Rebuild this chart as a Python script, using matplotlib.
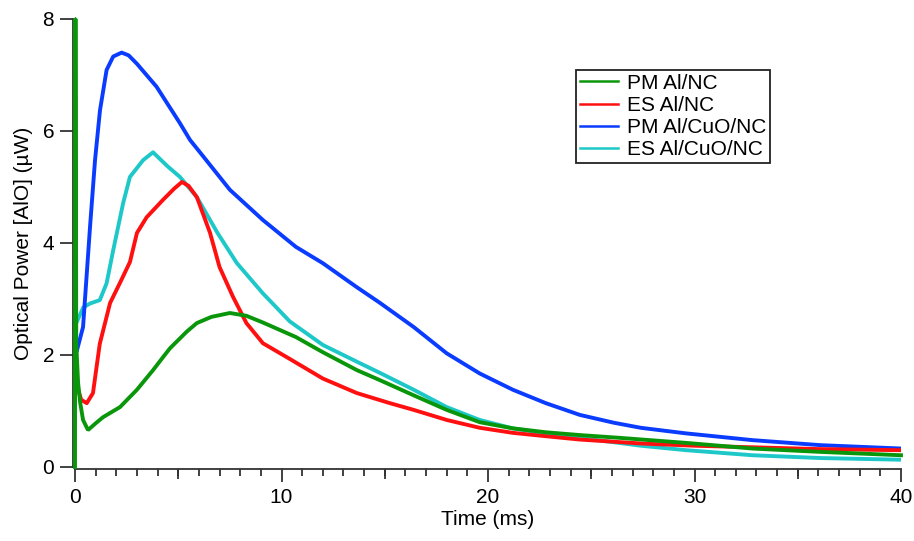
import matplotlib
matplotlib.use("Agg")
import matplotlib.pyplot as plt
from matplotlib.ticker import MultipleLocator, FixedLocator, NullFormatter

plt.rcParams['font.family'] = ['Liberation Sans', 'DejaVu Sans']

# --- data (time in ms, power in uW) ---
t_pm_al = [0.0, 0.015, 0.03, 0.06, 0.15, 0.25, 0.39, 0.63, 1.0, 1.36, 2.18, 3.0,
           3.78, 4.26, 4.6, 5.42, 5.9, 6.6, 7.5, 8.3, 9.1, 9.9, 10.7, 12.0, 13.65,
           14.77, 16.4, 18.0, 19.6, 21.2, 22.8, 24.45, 26.4, 29.6, 32.8, 36.1, 40.0]
y_pm_al = [0.0, 8.0, 8.0, 2.2, 1.5, 1.15, 0.84, 0.66, 0.78, 0.89, 1.07, 1.38,
           1.73, 1.96, 2.12, 2.42, 2.57, 2.68, 2.75, 2.7, 2.58, 2.45, 2.32, 2.05, 1.73,
           1.55, 1.28, 1.02, 0.8, 0.69, 0.62, 0.57, 0.52, 0.43, 0.33, 0.27, 0.21]

t_es_al = [0.1, 0.3, 0.57, 0.87, 1.2, 1.7, 2.18, 2.66, 3.0, 3.47, 4.26, 4.8,
           5.18, 5.5, 5.9, 6.54, 7.0, 7.65, 8.3, 9.1, 10.4, 12.0, 13.65, 15.25,
           16.4, 18.0, 19.6, 21.2, 22.8, 24.45, 27.4, 30.0, 33.0, 36.0, 40.0]
y_es_al = [1.45, 1.2, 1.14, 1.32, 2.2, 2.93, 3.29, 3.66, 4.18, 4.46, 4.77, 4.97,
           5.09, 5.02, 4.82, 4.18, 3.57, 3.04, 2.57, 2.21, 1.93, 1.58, 1.32, 1.14,
           1.02, 0.84, 0.7, 0.61, 0.55, 0.49, 0.42, 0.38, 0.35, 0.32, 0.3]

t_pm_cuo = [0.1, 0.39, 0.56, 0.73, 0.97, 1.21, 1.53, 1.85, 2.26, 2.6, 3.0, 3.95,
            5.08, 5.57, 6.05, 7.5, 9.1, 10.7, 12.0, 13.65, 14.77, 16.4, 18.0,
            19.6, 21.2, 22.8, 24.45, 26.1, 27.4, 29.6, 32.8, 36.1, 40.0]
y_pm_cuo = [2.09, 2.5, 3.4, 4.3, 5.48, 6.37, 7.09, 7.33, 7.4, 7.35, 7.2, 6.79,
            6.14, 5.84, 5.62, 4.95, 4.41, 3.93, 3.64, 3.21, 2.93, 2.5, 2.03,
            1.67, 1.38, 1.14, 0.93, 0.79, 0.7, 0.6, 0.48, 0.39, 0.33]

t_es_cuo = [0.1, 0.4, 0.73, 1.2, 1.53, 1.85, 2.33, 2.66, 3.3, 3.78, 4.45, 5.08,
            5.9, 6.9, 7.84, 9.1, 10.4, 12.0, 13.65, 14.77, 16.4, 18.0, 19.6,
            21.2, 22.8, 24.45, 27.4, 29.6, 32.8, 36.1, 40.0]
y_es_cuo = [2.6, 2.85, 2.92, 2.98, 3.28, 3.87, 4.71, 5.18, 5.48, 5.62, 5.38, 5.18,
            4.82, 4.18, 3.64, 3.1, 2.6, 2.18, 1.88, 1.68, 1.38, 1.07, 0.84,
            0.69, 0.6, 0.52, 0.38, 0.3, 0.21, 0.16, 0.13]

labels = ['PM Al/NC', 'ES Al/NC', 'PM Al/CuO/NC', 'ES Al/CuO/NC']
colors = ['#0a960a', '#ff1010', '#0a3cff', '#1ec8c8']

fig = plt.figure(figsize=(9.14, 5.41), dpi=100)
ax = fig.add_axes([75/914, 74/541, 826/914, 448/541])

# drawing order: cyan at the back, green in front
l4, = ax.plot(t_es_cuo, y_es_cuo, color=colors[3], lw=2.8, zorder=2)
l3, = ax.plot(t_pm_cuo, y_pm_cuo, color=colors[2], lw=2.8, zorder=3)
l2, = ax.plot(t_es_al, y_es_al, color=colors[1], lw=2.8, zorder=4)
l1, = ax.plot(t_pm_al, y_pm_al, color=colors[0], lw=2.8, zorder=5,
              clip_on=False, solid_joinstyle='bevel')

ax.set_xlim(0, 40)
ax.set_ylim(0, 8)

axcol = '#333333'
for s in ['top', 'right']:
    ax.spines[s].set_visible(False)
for s in ['left', 'bottom']:
    ax.spines[s].set_position(('outward', 1.5))
    ax.spines[s].set_color(axcol)
    ax.spines[s].set_linewidth(1.3)

ax.xaxis.set_major_locator(MultipleLocator(10))
ax.xaxis.set_minor_locator(MultipleLocator(1))
ax.yaxis.set_major_locator(MultipleLocator(2))
ax.tick_params(axis='both', which='major', direction='out', length=9.5, width=1.3,
               color=axcol, labelsize=15, pad=4)
ax.tick_params(axis='x', which='minor', direction='out', length=4.8, width=1.3,
               color=axcol)

# medium ticks every 5 ms
sec = ax.secondary_xaxis(-2.08/448)
sec.xaxis.set_major_locator(FixedLocator([5, 15, 25, 35]))
sec.xaxis.set_major_formatter(NullFormatter())
sec.tick_params(direction='out', length=7, width=1.3, color=axcol)
sec.spines['bottom'].set_visible(False)

ax.set_xlabel('Time (ms)', fontsize=15, labelpad=2)
ax.set_ylabel('Optical Power [AlO] (µW)', fontsize=15, labelpad=7)

leg = ax.legend([l1, l2, l3, l4], labels, loc='upper left',
                bbox_to_anchor=(576/914, 1 - 70/541), bbox_transform=fig.transFigure,
                borderaxespad=0, fontsize=15, fancybox=False, framealpha=1,
                edgecolor='#222222', handlelength=1.85, handletextpad=0.4,
                labelspacing=0.15, borderpad=0.18)
leg.get_frame().set_linewidth(1.3)
for ln in leg.get_lines():
    ln.set_linewidth(1.8)

fig.savefig('out.png', dpi=100)
